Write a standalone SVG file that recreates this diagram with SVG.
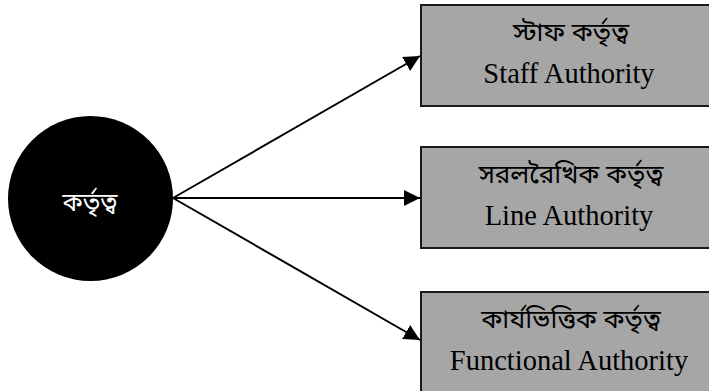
<svg xmlns="http://www.w3.org/2000/svg" width="709" height="391" viewBox="0 0 709 391">
  <style>
    .box { fill: #a6a6a6; stroke: #1a1a1a; stroke-width: 2; }
    .bn { font-family: "Noto Sans Bengali", "Noto Serif Bengali", "Lohit Bengali", sans-serif; font-size: 26px; fill: #000; text-anchor: middle; }
    .en { font-family: "Liberation Serif", "Times New Roman", Times, serif; font-size: 28.5px; fill: #000; text-anchor: middle; }
    .edge { stroke: #000; stroke-width: 2; fill: none; marker-end: url(#arrow); }
  </style>
  <defs>
    <marker id="arrow" viewBox="0 0 16 16" refX="16" refY="8" markerWidth="16" markerHeight="16" markerUnits="userSpaceOnUse" orient="auto">
      <path d="M0,0 L16,8 L0,16 Z" fill="#000"/>
    </marker>
  </defs>
  <rect width="709" height="391" fill="#fff"/>

  <g id="connectors">
    <line class="edge" x1="173" y1="198" x2="420" y2="56"/>
    <line class="edge" x1="173" y1="198" x2="420" y2="198"/>
    <line class="edge" x1="173" y1="198" x2="420" y2="340"/>
  </g>

  <g id="authority">
    <circle cx="90.5" cy="198.5" r="82.5" fill="#000"/>
    <text class="bn" x="90" y="211" style="fill:#fff; font-size:25px">কর্তৃত্ব</text>
  </g>

  <g id="staff-authority">
    <rect class="box" x="421" y="5" width="300" height="101"/>
    <text class="bn" x="571" y="41">স্টাফ কর্তৃত্ব</text>
    <text class="en" x="569" y="83" font-family="'Liberation Serif', 'Times New Roman', Times, serif">Staff Authority</text>
  </g>

  <g id="line-authority">
    <rect class="box" x="421" y="147" width="300" height="101"/>
    <text class="bn" x="571" y="183">সরলরৈখিক কর্তৃত্ব</text>
    <text class="en" x="569" y="225" font-family="'Liberation Serif', 'Times New Roman', Times, serif">Line Authority</text>
  </g>

  <g id="functional-authority">
    <rect class="box" x="421" y="292" width="300" height="110"/>
    <text class="bn" x="571" y="328">কার্যভিত্তিক কর্তৃত্ব</text>
    <text class="en" x="569" y="370" font-family="'Liberation Serif', 'Times New Roman', Times, serif">Functional Authority</text>
  </g>
</svg>
